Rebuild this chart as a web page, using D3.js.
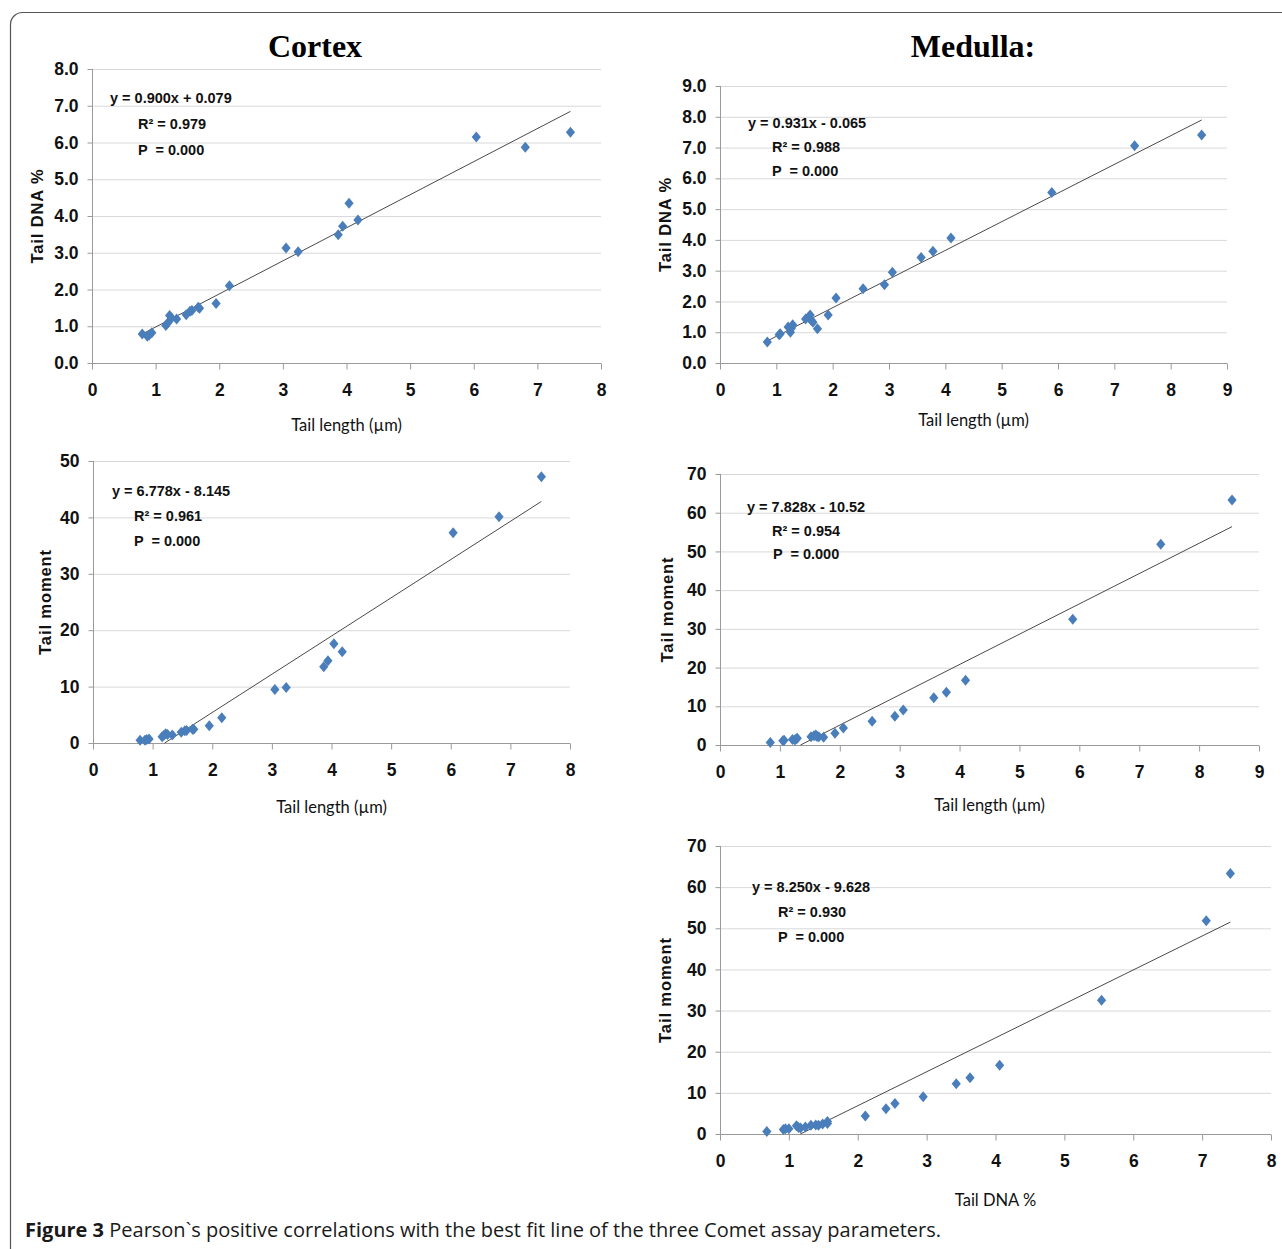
<!DOCTYPE html>
<html lang="en">
<head>
  <meta charset="UTF-8">
  <title>Comet assay correlations</title>
  <script src="https://d3js.org/d3.v7.min.js"></script>
  <style>
    body { margin: 0; background: #fff; }
    svg { display: block; }
    .tick text { font-family: "Liberation Sans Narrow", "Liberation Sans", sans-serif; font-weight: bold; font-size: 17.5px; fill: #111; }
    .axis path, .axis line { stroke: #9a9a9a; }
    .grid line { stroke: #d9d9d9; }
    .xtitle { font-family: Lato, sans-serif; font-size: 16.5px; fill: #111; }
    .ytitle { font-family: "Liberation Sans", sans-serif; font-weight: bold; font-size: 16.5px; fill: #111; letter-spacing: 0.9px; }
    .eq { font-family: "Liberation Sans Narrow", "Liberation Sans", sans-serif; font-weight: bold; font-size: 14.5px; fill: #111; white-space: pre; }
    .title { font-family: "Liberation Serif", serif; font-weight: bold; font-size: 32px; fill: #000; }
    .caption { font-family: "Open Sans", sans-serif; font-size: 20px; font-weight: 500; fill: #1a1a1a; }
  </style>
</head>
<body>
  <svg width="1282" height="1249"></svg>

  <script>
    // cortex samples (tail length µm, tail DNA %, tail moment)
    const cortexLength = [0.79, 0.87, 0.90, 0.94, 1.16, 1.19, 1.22, 1.25, 1.33, 1.48, 1.54, 1.57, 1.67, 1.69, 1.95, 2.16, 3.05, 3.24, 3.87, 3.94, 4.04, 4.18, 6.04, 6.81, 7.52];
    const cortexDNA    = [0.79, 0.73, 0.76, 0.82, 1.02, 1.09, 1.29, 1.22, 1.20, 1.31, 1.41, 1.43, 1.52, 1.49, 1.62, 2.10, 3.13, 3.03, 3.49, 3.72, 4.35, 3.89, 6.15, 5.87, 6.28];
    const cortexMoment = [0.47, 0.47, 0.60, 0.71, 1.12, 1.36, 1.65, 1.50, 1.42, 1.89, 2.18, 2.20, 2.42, 2.45, 3.07, 4.48, 9.49, 9.85, 13.5, 14.6, 17.6, 16.2, 37.3, 40.1, 47.2];

    // medulla samples
    const medullaLength = [0.84, 1.05, 1.07, 1.21, 1.25, 1.27, 1.29, 1.52, 1.57, 1.60, 1.62, 1.65, 1.73, 1.92, 2.06, 2.54, 2.92, 3.06, 3.57, 3.78, 4.10, 5.89, 7.36, 8.55];
    const medullaDNA    = [0.68, 0.92, 0.95, 1.17, 1.00, 1.14, 1.24, 1.43, 1.49, 1.56, 1.39, 1.32, 1.11, 1.56, 2.11, 2.41, 2.54, 2.95, 3.43, 3.63, 4.06, 5.54, 7.06, 7.41];
    const medullaMoment = [0.62, 1.12, 1.25, 1.45, 1.30, 1.55, 1.72, 2.15, 2.41, 2.58, 2.20, 2.15, 1.98, 3.01, 4.40, 6.13, 7.42, 9.05, 12.2, 13.65, 16.7, 32.5, 51.85, 63.3];

    // regression coefficients [slope, intercept] and printed statistics
    const fitCoefs = [[0.900, 0.079], [0.931, -0.065], [6.778, -8.145], [7.828, -10.52], [8.250, -9.628]];
    const fitLabels = [
      ["y = 0.900x + 0.079", "R² = 0.979", "P  = 0.000"],
      ["y = 0.931x - 0.065", "R² = 0.988", "P  = 0.000"],
      ["y = 6.778x - 8.145", "R² = 0.961", "P  = 0.000"],
      ["y = 7.828x - 10.52", "R² = 0.954", "P  = 0.000"],
      ["y = 8.250x - 9.628", "R² = 0.930", "P  = 0.000"]
    ];
    const xTitles = ["Tail length (µm)", "Tail length (µm)", "Tail length (µm)", "Tail length (µm)", "Tail DNA %"];
    const yTitles = ["Tail DNA %", "Tail DNA %", "Tail moment", "Tail moment", "Tail moment"];
    const xMaxes = [8, 9, 8, 9, 8];
    const yMaxes = [8, 9, 50, 70, 70];
    const ySteps = [1, 1, 10, 10, 10];

    const svg = d3.select("svg");

    // frame
    svg.append("rect")
      .attr("x", 10.5).attr("y", 12.5)
      .attr("width", 1300).attr("height", 1270)
      .attr("rx", 12)
      .attr("fill", "none").attr("stroke", "#555").attr("stroke-width", 1.2);

    svg.append("text").attr("class", "title").attr("x", 315).attr("y", 57)
      .attr("text-anchor", "middle").text("Cortex");
    svg.append("text").attr("class", "title").attr("x", 973).attr("y", 57)
      .attr("text-anchor", "middle").text("Medulla:");

    const panels = [
      { xs: cortexLength, ys: cortexDNA, box: [92, 601, 69, 363], eqOff: [[18, 29], [46, 55], [46, 81]], xtOff: 62, ytOff: -55 },
      { xs: medullaLength, ys: medullaDNA, box: [720, 1227, 86, 363], eqOff: [[28, 37], [52, 61], [52, 85]], xtOff: 57, ytOff: -55 },
      { xs: cortexLength, ys: cortexMoment, box: [93, 570, 461, 743], eqOff: [[19, 30], [41, 55], [41, 80]], xtOff: 64, ytOff: -48 },
      { xs: medullaLength, ys: medullaMoment, box: [720, 1259, 474, 745], eqOff: [[27, 33], [52, 57], [53, 80]], xtOff: 60, ytOff: -53 },
      { xs: medullaDNA, ys: medullaMoment, box: [720, 1271, 846, 1134], eqOff: [[32, 41], [58, 66], [58, 91]], xtOff: 66, ytOff: -55 }
    ];

    const diamond = "M0,-5.5L4.6,0L0,5.5L-4.6,0Z";

    panels.forEach((p, i) => {
      const [left, right, top, bottom] = p.box;
      const x = d3.scaleLinear().domain([0, xMaxes[i]]).range([left, right]);
      const y = d3.scaleLinear().domain([0, yMaxes[i]]).range([bottom, top]);
      const yTicks = d3.range(0, yMaxes[i] + ySteps[i] / 2, ySteps[i]);
      const g = svg.append("g");

      // gridlines
      g.append("g").attr("class", "grid")
        .selectAll("line").data(yTicks.filter(t => t > 0)).join("line")
        .attr("x1", left).attr("x2", right)
        .attr("y1", d => y(d) + 0.5).attr("y2", d => y(d) + 0.5);

      g.append("g").attr("class", "axis")
        .attr("transform", `translate(0,${bottom + 0.5})`)
        .call(d3.axisBottom(x).ticks(xMaxes[i]).tickSize(6).tickPadding(14).tickFormat(d3.format("d")))
        .call(a => a.select(".domain").attr("d", `M${left},0H${right}`));

      g.append("g").attr("class", "axis")
        .attr("transform", `translate(${left + 0.5},0)`)
        .call(d3.axisLeft(y).tickValues(yTicks).tickSize(5).tickPadding(9)
          .tickFormat(ySteps[i] === 1 ? d3.format(".1f") : d3.format("d")))
        .call(a => a.select(".domain").attr("d", `M0,${top}V${bottom}`));

      // best fit line, clipped at y = 0 and ending at largest x
      const [m, c] = fitCoefs[i];
      const [xa, xb] = d3.extent(p.xs);
      const x0 = Math.max(xa, -c / m);
      g.append("path")
        .datum([x0, xb])
        .attr("fill", "none").attr("stroke", "#4a4a4a").attr("stroke-width", 1)
        .attr("d", d3.line().x(d => x(d)).y(d => y(m * d + c)));

      g.append("g").selectAll("path")
        .data(p.xs.map((v, k) => [v, p.ys[k]]))
        .join("path")
        .attr("d", diamond)
        .attr("fill", "#4a7ebb")
        .attr("transform", d => `translate(${x(d[0])},${y(d[1])})`);

      fitLabels[i].forEach((t, k) => {
        g.append("text").attr("class", "eq")
          .attr("x", left + p.eqOff[k][0]).attr("y", top + p.eqOff[k][1])
          .attr("dy", "0.35em").text(t);
      });

      g.append("text").attr("class", "xtitle")
        .attr("x", (left + right) / 2).attr("y", bottom + p.xtOff)
        .attr("dy", "0.35em").attr("text-anchor", "middle").text(xTitles[i]);

      g.append("text").attr("class", "ytitle")
        .attr("transform", `translate(${left + p.ytOff},${(top + bottom) / 2}) rotate(-90)`)
        .attr("dy", "0.35em").attr("text-anchor", "middle").text(yTitles[i]);
    });

    const cap = svg.append("text").attr("class", "caption").attr("x", 25).attr("y", 1237);
    cap.append("tspan").attr("font-weight", "bold").text("Figure 3");
    cap.append("tspan").text(" Pearson`s positive correlations with the best fit line of the three Comet assay parameters.");
  </script>
</body>
</html>
